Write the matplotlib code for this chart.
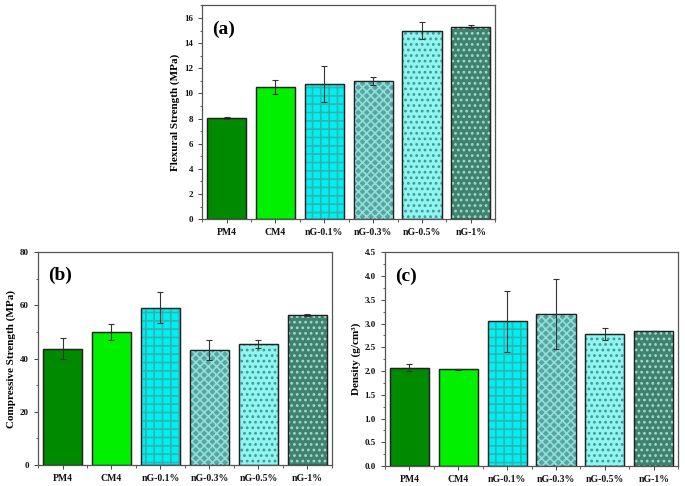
import matplotlib
matplotlib.use("Agg")
import matplotlib.pyplot as plt
from matplotlib.ticker import MultipleLocator, FixedLocator

plt.rcParams['font.family'] = ['Liberation Serif', 'DejaVu Serif']
plt.rcParams['font.weight'] = 'bold'
plt.rcParams['hatch.linewidth'] = 1.2

categories = ["PM4", "CM4", "nG-0.1%", "nG-0.3%", "nG-0.5%", "nG-1%"]

flexural = [8.05, 10.5, 10.75, 11.0, 15.0, 15.3]
flexural_err = [0.05, 0.55, 1.45, 0.3, 0.65, 0.1]

compressive = [43.8, 50.2, 59.2, 43.3, 45.5, 56.3]
compressive_err = [4.0, 3.0, 5.7, 3.9, 1.6, 0.3]

density = [2.07, 2.04, 3.05, 3.2, 2.78, 2.84]
density_err = [0.07, 0.01, 0.64, 0.73, 0.13, 0.0]

face_colors = ["#008a00", "#00f000", "#00f0f0", "#4fa8a4", "#90f5ee", "#3e8270"]
hatch_patterns = [None, None, "++", "xxxx", "...", "..."]
hatch_colors = [None, None, "#2eb4b4", "#9adcd6", "#3a9a98", "#a6d8c8"]

fig = plt.figure(figsize=(6.85, 4.86), dpi=100)

def panel(rect, values, errs, ylim, major, ylabel, tag):
    ax = fig.add_axes(rect)
    x = list(range(len(categories)))
    ax.bar(x, values, width=0.8, color=face_colors, edgecolor="#222222", linewidth=0.9, zorder=2)
    for xi, v, h, hc in zip(x, values, hatch_patterns, hatch_colors):
        if h:
            ax.bar([xi], [v], width=0.8, facecolor="none", edgecolor=hc, hatch=h, linewidth=0, zorder=2.5)
    ax.bar(x, values, width=0.8, facecolor="none", edgecolor="#222222", linewidth=0.9, zorder=3)
    ax.errorbar(x, values, yerr=errs, fmt="none", ecolor="#333333", elinewidth=0.8,
                capsize=2.5, capthick=0.8, zorder=4)
    ax.set_xlim(-0.5, 5.5)
    ax.set_ylim(*ylim)
    ax.set_xticks(x)
    ax.set_xticklabels(categories, fontsize=7, fontweight="bold")
    ax.xaxis.set_minor_locator(FixedLocator([i + 0.5 for i in range(-1, 6)]))
    ax.yaxis.set_major_locator(MultipleLocator(major))
    ax.yaxis.set_minor_locator(MultipleLocator(major / 2))
    ax.tick_params(axis="both", which="both", direction="out", top=False, right=False,
                   colors="#444444", labelcolor="#111111")
    ax.tick_params(axis="both", which="major", length=3, width=0.7)
    ax.tick_params(axis="both", which="minor", length=1.8, width=0.6)
    ax.tick_params(axis="y", labelsize=6.5)
    for lab in ax.get_yticklabels():
        lab.set_fontweight("bold")
    for s in ax.spines.values():
        s.set_color("#555555")
        s.set_linewidth(0.9)
    ax.set_ylabel(ylabel, fontsize=8, fontweight="bold", labelpad=3)
    ax.text(0.035, 0.93, tag, transform=ax.transAxes, fontsize=14, fontweight="bold",
            va="top", ha="left")
    return ax

panel([0.295, 0.549, 0.428, 0.440], flexural, flexural_err, (0, 17), 2,
      "Flexural Strength (MPa)", "(a)")
panel([0.0555, 0.043, 0.429, 0.438], compressive, compressive_err, (0, 80), 20,
      "Compressive Strength (MPa)", "(b)")
panel([0.562, 0.041, 0.428, 0.440], density, density_err, (0, 4.5), 0.5,
      "Density (g/cm³)", "(c)")

fig.savefig("out.png", dpi=100)
